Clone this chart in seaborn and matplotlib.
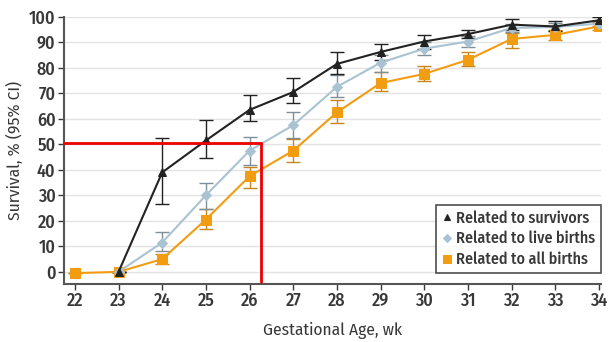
import numpy as np
import pandas as pd
import matplotlib
matplotlib.use("Agg")
import matplotlib.pyplot as plt
import seaborn as sns

weeks = [22, 23, 24, 25, 26, 27, 28, 29, 30, 31, 32, 33, 34]

# related to survivors (starts at 23 wk)
surv_weeks = weeks[1:]
surv = [0, 39, 51.5, 63.5, 70.5, 81.5, 86.2, 90.3, 93.2, 96.9, 96.2, 98.6]
surv_lo = [0, 26.5, 44.5, 59, 66, 77.5, 83, 87.5, 91.5, 95, 94.5, 97.5]
surv_hi = [0, 52.5, 59.5, 69.5, 76, 86, 89.5, 93, 95, 99, 98.2, 99.9]

# related to live births
live_weeks = weeks[1:]
live = [0, 11.5, 30, 47.5, 57.5, 72.5, 82, 87.5, 90.3, 95.6, 96, 97.3]
live_lo = [0, 8, 24.5, 42, 52.5, 68.5, 78.5, 85, 88, 94, 94.5, 96.5]
live_hi = [0, 15.5, 35, 53, 62.5, 77, 85, 90, 92.5, 97, 97.5, 98.5]

# related to all births
allb_weeks = weeks
allb = [-0.5, 0, 5, 20.5, 37.5, 47.5, 62.5, 74, 77.6, 83.1, 91.3, 92.9, 96.2]
allb_lo = [-0.5, 0, 3, 17, 33, 43, 58.5, 70.9, 74.8, 80.8, 87.6, 90.7, 94.9]
allb_hi = [-0.5, 0, 7, 24.5, 41, 52, 67.5, 78.2, 80.8, 86, 93.6, 94.9, 97.4]

labels = ["Related to survivors", "Related to live births", "Related to all births"]

df = pd.concat([
    pd.DataFrame({"week": surv_weeks, "value": surv, "lo": surv_lo, "hi": surv_hi, "group": labels[0]}),
    pd.DataFrame({"week": live_weeks, "value": live, "lo": live_lo, "hi": live_hi, "group": labels[1]}),
    pd.DataFrame({"week": allb_weeks, "value": allb, "lo": allb_lo, "hi": allb_hi, "group": labels[2]}),
])

colors = {labels[0]: "#222222", labels[1]: "#a9c3d2", labels[2]: "#f29c12"}
ecolors = {labels[0]: "#222222", labels[1]: "#7f8f9a", labels[2]: "#c8861c"}
markers = {labels[0]: "^", labels[1]: "D", labels[2]: "s"}
msizes = {labels[0]: 6, labels[1]: 5, labels[2]: 7}

sns.set_style("white")
plt.rcParams["font.family"] = ["Fira Sans Condensed", "DejaVu Sans"]
plt.rcParams["font.weight"] = "medium"
plt.rcParams["text.color"] = "#383838"
plt.rcParams["axes.labelcolor"] = "#383838"
plt.rcParams["xtick.color"] = "#383838"
plt.rcParams["ytick.color"] = "#383838"

fig = plt.figure(figsize=(6.09, 3.42), dpi=100)
ax = fig.add_axes([0.105, 0.170, 0.882, 0.781])

ax.yaxis.grid(True, color="#e3e3e3", linewidth=1)
ax.set_axisbelow(True)

# error bars first; all births at the back, survivors on top
for g in [labels[2], labels[1], labels[0]]:
    d = df[df["group"] == g]
    yerr = np.array([d["value"] - d["lo"], d["hi"] - d["value"]])
    ax.errorbar(d["week"], d["value"], yerr=yerr, fmt="none",
                ecolor=ecolors[g], elinewidth=1, capsize=5, capthick=1, zorder=2)

for g in [labels[2], labels[1], labels[0]]:
    d = df[df["group"] == g]
    sns.lineplot(data=d, x="week", y="value", ax=ax, color=colors[g],
                 marker=markers[g], markersize=msizes[g], markeredgecolor=colors[g],
                 linewidth=1.5, label=g, zorder=3)

# red reference lines at 50 % survival
ax.plot([21.75, 26.27], [50.5, 50.5], color="#ee0000", linewidth=2, zorder=4, clip_on=False)
ax.plot([26.27, 26.27], [50.5, -3.9], color="#ee0000", linewidth=2, zorder=4, clip_on=False)

ax.set_xlim(21.75, 34.05)
ax.set_ylim(-4.7, 100)
ax.set_xticks(weeks)
ax.set_yticks(range(0, 101, 10))
ax.tick_params(axis="both", labelsize=13, length=4, width=1, direction="out",
               left=True, bottom=True, pad=2)
for s in ["top", "right"]:
    ax.spines[s].set_visible(False)
for s in ["left", "bottom"]:
    ax.spines[s].set_color("#555555")
    ax.spines[s].set_linewidth(1.5)

ax.set_xlabel("Gestational Age, wk", fontsize=12.5, labelpad=9)
ax.set_ylabel("Survival, % (95% CI)", fontsize=12.5, labelpad=4)

handles, lbls = ax.get_legend_handles_labels()
hmap = dict(zip(lbls, handles))
leg = ax.legend([hmap[l] for l in labels], labels, loc="lower right",
                bbox_to_anchor=(1.0, 0.04), borderaxespad=0, fontsize=11.5,
                frameon=True, fancybox=False, handlelength=0.6, handletextpad=0.3,
                borderpad=0.35, labelspacing=0.3, markerscale=0.8)
leg.get_frame().set_edgecolor("#222222")
leg.get_frame().set_linewidth(1.2)
for h in leg.legend_handles:
    h.set_linestyle("none")

fig.savefig("out.png", dpi=100)
